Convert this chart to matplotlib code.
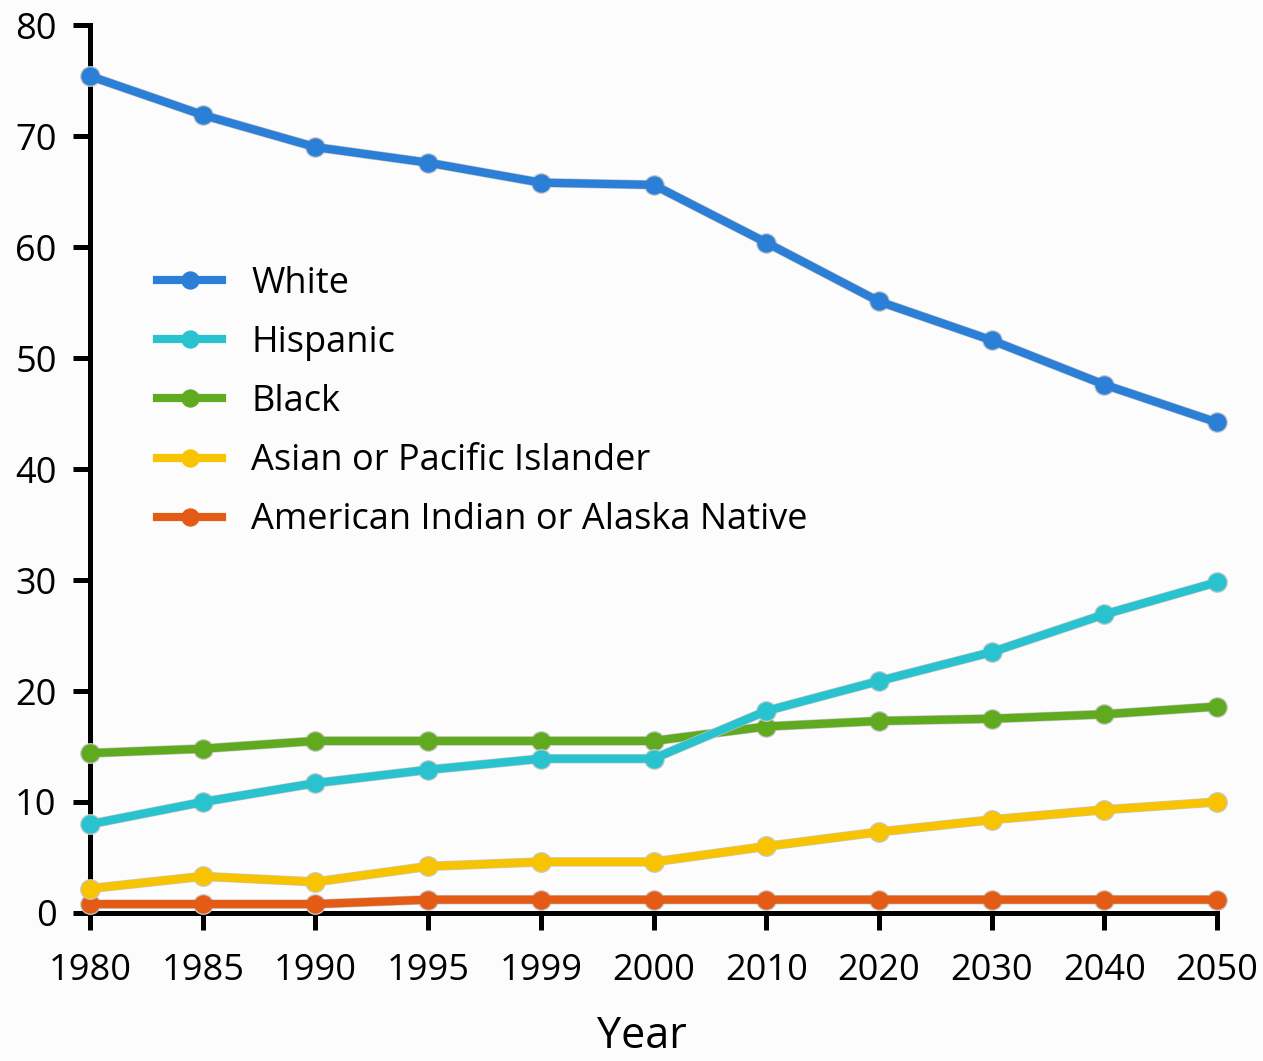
import matplotlib.pyplot as plt

years = ["1980", "1985", "1990", "1995", "1999", "2000",
         "2010", "2020", "2030", "2040", "2050"]

white = [75.4, 71.9, 69.0, 67.6, 65.8, 65.6, 60.4, 55.1, 51.6, 47.6, 44.2]
hispanic = [8.0, 10.0, 11.7, 12.9, 13.9, 13.9, 18.2, 20.9, 23.5, 26.9, 29.8]
black = [14.4, 14.8, 15.5, 15.5, 15.5, 15.5, 16.8, 17.3, 17.5, 17.9, 18.6]
asian = [2.2, 3.3, 2.8, 4.2, 4.6, 4.6, 6.0, 7.3, 8.4, 9.3, 10.0]
aian = [0.8, 0.8, 0.8, 1.2, 1.2, 1.2, 1.2, 1.2, 1.2, 1.2, 1.2]

series = [
    ("White", white, "#2b7fd6"),
    ("Hispanic", hispanic, "#29c3cf"),
    ("Black", black, "#5faa1f"),
    ("Asian or Pacific Islander", asian, "#f8c300"),
    ("American Indian or Alaska Native", aian, "#e35b15"),
]

plt.rcParams["font.family"] = ["Open Sans", "DejaVu Sans"]

fig = plt.figure(figsize=(12.63, 10.61), dpi=100, facecolor="#fcfcfc")
ax = fig.add_axes([0.0713, 0.1395, 0.8923, 0.8369])
ax.set_facecolor("#fcfcfc")

x = list(range(len(years)))

# draw bottom series first so White ends up on top
handles = []
for k, (name, vals, col) in enumerate(reversed(series)):
    z = 3 + 2 * k
    # faint grey rim under the coloured line
    ax.plot(x, vals, color="#c8c8c8", lw=6.8, solid_capstyle="butt",
            clip_on=False, zorder=z)
    ax.plot(x, vals, color="#c8c8c8", ls="none", marker="o", ms=14.0,
            clip_on=False, zorder=z)
    h, = ax.plot(x, vals, color=col, lw=5.9, marker="o", ms=13.2,
                 mec=col, mew=0, label=name, clip_on=False, zorder=z + 1)
    handles.append(h)

ax.legend(handles[::-1], [s[0] for s in series], loc="upper left",
          bbox_to_anchor=(0.047, 0.745), frameon=False,
          fontsize=26, handlelength=1.8, handletextpad=0.8,
          labelspacing=0.64, borderaxespad=0)

ax.set_xlim(0, len(years) - 1)
ax.set_ylim(0, 80)
ax.set_xticks(x)
ax.set_xticklabels(years)
ax.set_yticks(range(0, 81, 10))

for s in ["top", "right"]:
    ax.spines[s].set_visible(False)
for s in ["left", "bottom"]:
    ax.spines[s].set_linewidth(3.6)
    ax.spines[s].set_color("black")

ax.tick_params(axis="both", direction="out", length=12, width=3.6,
               labelsize=26, color="black")
ax.tick_params(axis="x", pad=17)
ax.tick_params(axis="y", pad=12)

ax.set_xlabel("Year", fontsize=31, va="baseline")
ax.xaxis.set_label_coords(0.49, -0.152)

fig.savefig("out.png", dpi=100, facecolor=fig.get_facecolor())
